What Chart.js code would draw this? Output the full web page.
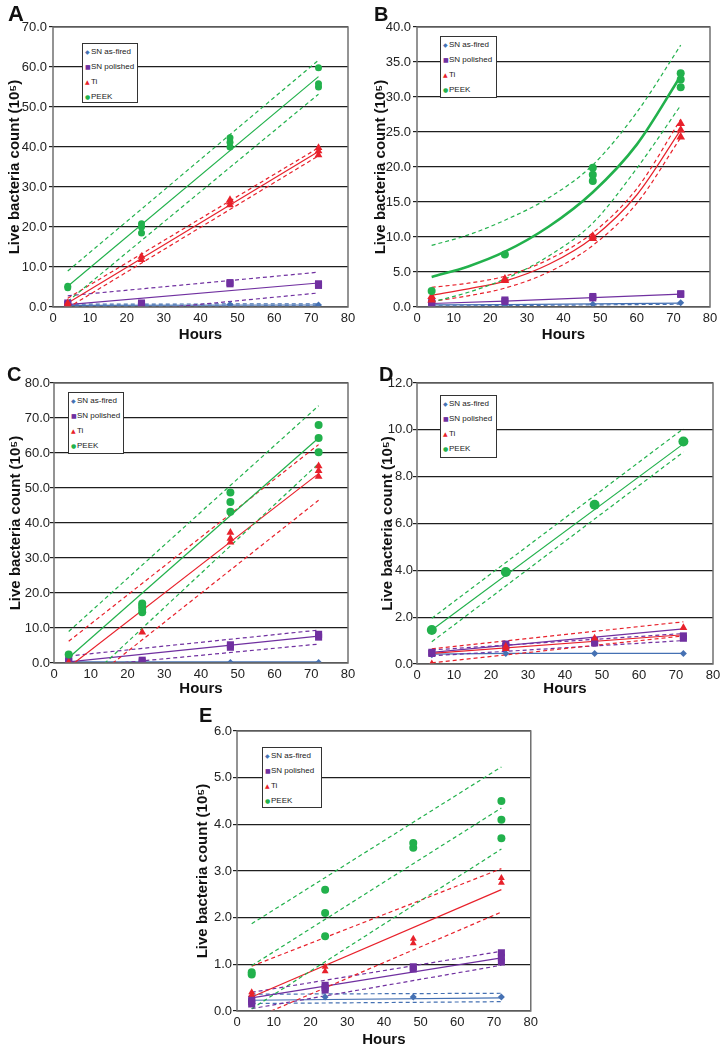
<!DOCTYPE html>
<html>
<head>
<meta charset="utf-8">
<script src="https://cdn.jsdelivr.net/npm/chart.js@4.4.0/dist/chart.umd.min.js"></script>
<style>
  body { margin: 0; background: #fff; width: 725px; height: 1051px; position: relative; overflow: hidden;
         font-family: Arial, "Liberation Sans", sans-serif; }
  canvas { position: absolute; }
  .letter { position: absolute; font-weight: bold; font-size: 20px; line-height: 20px; color: #111; }
  .legend { position: absolute; background: #fff; border: 1px solid #333; box-sizing: border-box;
            font-size: 8px; color: #222; }
  .legend div { height: 15px; line-height: 15px; white-space: nowrap; padding-left: 2px; }
  .legend span { display: inline-block; width: 6px; font-size: 6px; font-family: "DejaVu Sans", sans-serif; }
</style>
</head>
<body>
<canvas id="chartA" width="362" height="345" style="left:0;top:0"></canvas>
<canvas id="chartB" width="363" height="345" style="left:362px;top:0"></canvas>
<canvas id="chartC" width="362" height="360" style="left:0;top:345px"></canvas>
<canvas id="chartD" width="363" height="360" style="left:362px;top:345px"></canvas>
<canvas id="chartE" width="362" height="346" style="left:180px;top:705px"></canvas>

<div class="letter" style="left:8px;top:4px;font-size:22px">A</div>
<div class="letter" style="left:374px;top:4px">B</div>
<div class="letter" style="left:7px;top:364px">C</div>
<div class="letter" style="left:379px;top:364px">D</div>
<div class="letter" style="left:199px;top:705px">E</div>

<script>
// shared
const hours = [4, 24, 48, 72];
const fitHours = [4, 72];
const curveHours = [4, 14, 24, 36, 48, 60, 72];
const seriesNames = ['SN as-fired', 'SN polished', 'Ti', 'PEEK'];
const seriesColors = ['#4571b3', '#7030a0', '#e8212b', '#22b14c'];
const seriesShapes = ['rectRot', 'rect', 'triangle', 'circle'];
const legendGlyphs = ['\u25C6', '\u25A0', '\u25B2', '\u25CF'];
const yAxisTitle = 'Live bacteria count (10\u2075)';
const xAxisTitle = 'Hours';

// panel A (replicates per time point)
const firedA = [[0.3], [0.4], [0.6], [0.5]];
const polishedA = [[0.6, 1.0], [0.8, 1.0], [5.8, 6.1], [5.4, 5.8]];
const tiA = [[0.5, 1.0], [11.8, 12.6], [25.5, 26.2, 26.8], [38.0, 39.0, 39.8]];
const peekA = [[4.8, 5.2], [18.5, 20.0, 20.8], [40.0, 41.2, 42.3], [55.0, 55.8, 59.8]];
const firedFitA = [0.4, 0.5], firedHiA = [0.7, 0.8], firedLoA = [0.1, 0.3];
const polishedFitA = [0.6, 6.0], polishedHiA = [2.8, 8.7], polishedLoA = [-2.5, 3.5];
const tiFitA = [1.0, 38.9], tiHiA = [2.2, 39.8], tiLoA = [-0.2, 37.8];
const peekFitA = [5.2, 57.6], peekHiA = [9.0, 61.7], peekLoA = [1.4, 53.2];

// panel B
const firedB = [[0.1, 0.3], [0.3], [0.4], [0.6]];
const polishedB = [[0.5, 0.8], [0.8, 1.0], [1.3, 1.5], [1.8, 1.9]];
const tiB = [[1.0, 1.5], [3.8, 4.0], [9.8, 10.1], [24.3, 25.3, 26.2]];
const peekB = [[2.3], [7.5], [18.0, 18.9, 19.9], [31.4, 32.5, 33.4]];
const firedFitB = [0.3, 0.35, 0.45, 0.55], firedLoB = [0.15, 0.2, 0.3, 0.4];
const polishedFitB = [0.5, 0.85, 1.35, 1.85];
const tiFitB = [1.7, 2.6, 3.7, 6.1, 9.9, 16.0, 25.3];
const tiHiB = [2.8, 3.4, 4.4, 6.8, 10.6, 16.9, 26.8];
const tiLoB = [0.8, 1.6, 2.7, 5.0, 8.8, 14.8, 24.2];
const peekFitB = [4.3, 5.8, 7.9, 11.5, 16.4, 23.2, 33.0];
const peekHiB = [8.8, 10.3, 12.4, 15.6, 20.3, 27.8, 37.4];
const peekLoB = [0.7, 2.1, 4.0, 7.3, 12.0, 19.8, 28.8];

// panel C
const firedC = [[0.3], [0.3], [0.3], [0.3]];
const polishedC = [[0.5, 1.0], [0.3, 0.8], [4.5, 5.2], [7.4, 8.2]];
const tiC = [[0.2], [8.8], [34.5, 35.6, 37.3], [53.3, 54.9, 56.3]];
const peekC = [[2.4], [14.5, 15.5, 16.3, 17.0], [43.2, 46.0, 48.7], [60.2, 64.3, 68.0]];
const firedFitC = [0.3, 0.3];
const polishedFitC = [0.3, 7.7], polishedHiC = [2.0, 9.4], polishedLoC = [-1.4, 5.4];
const tiFitC = [-1.2, 54.1], tiHiC = [6.2, 62.4], tiLoC = [-10.0, 46.5];
const peekFitC = [1.5, 64.3], peekHiC = [9.0, 73.5], peekLoC = [-9.7, 57.0];

// panel D
const firedD = [[0.4], [0.45], [0.45], [0.45]];
const polishedD = [[0.45, 0.5], [0.75, 0.85], [0.9, 1.0], [1.1, 1.2]];
const tiD = [[0.0], [0.65, 0.75], [1.1], [1.55]];
const peekD = [[1.45], [3.93], [6.8], [9.5]];
const firedFitD = [0.42, 0.45, 0.45, 0.45];
const polishedFitD = [0.5, 1.5], polishedHiD = [0.6, 1.3], polishedLoD = [0.35, 1.0];
const tiFitD = [0.45, 1.25], tiHiD = [0.65, 1.8], tiLoD = [0.05, 1.2];
const peekFitD = [1.45, 9.4], peekHiD = [1.95, 10.05], peekLoD = [0.95, 9.05];

// panel E
const firedE = [[0.2], [0.3], [0.3], [0.3]];
const polishedE = [[0.15, 0.2, 0.25], [0.45, 0.5, 0.55], [0.9, 0.95], [1.05, 1.15, 1.25]];
const tiE = [[0.35, 0.4], [0.85, 0.95], [1.45, 1.55], [2.75, 2.85]];
const peekE = [[0.78, 0.83], [1.6, 2.1, 2.6], [3.5, 3.6], [3.7, 4.1, 4.5]];
const firedFitE = [0.23, 0.28], firedHiE = [0.36, 0.38], firedLoE = [0.16, 0.2];
const polishedFitE = [0.28, 1.14], polishedHiE = [0.4, 1.28], polishedLoE = [0.05, 0.98];
const tiFitE = [0.3, 2.6], tiHiE = [0.96, 3.05], tiLoE = [-0.18, 2.12];
const peekFitE = [0.97, 4.35], peekHiE = [1.87, 5.23], peekLoE = [0.05, 3.47];

function scatterPts(reps) {
  const out = [];
  reps.forEach((vals, i) => vals.forEach(v => out.push({ x: hours[i], y: v })));
  return out;
}
function linePts(xs, ys) {
  return ys.map((y, i) => ({ x: xs[i], y: y }));
}
function points(k, reps, r) {
  const c = seriesColors[k];
  return { label: seriesNames[k], data: scatterPts(reps), showLine: false,
           pointStyle: seriesShapes[k], pointRadius: r, pointBorderWidth: 0,
           backgroundColor: c, borderColor: c };
}
function fit(k, xs, ys, dashed, width, curve) {
  const c = seriesColors[k];
  return { data: linePts(xs, ys), showLine: true, pointRadius: 0,
           borderColor: c, backgroundColor: c, borderWidth: width || 1.2,
           borderDash: dashed ? [4, 3] : [],
           tension: curve ? 0.4 : 0, cubicInterpolationMode: curve ? 'monotone' : 'default' };
}

const framePlugin = {
  id: 'frame',
  afterDatasetsDraw(chart) {
    const { ctx, chartArea: a } = chart;
    ctx.save();
    ctx.strokeStyle = '#707070';
    ctx.lineWidth = 1.5;
    ctx.strokeRect(a.left, a.top, a.right - a.left, a.bottom - a.top);
    ctx.restore();
  }
};

function makePanel(id, g, datasets) {
  const canvas = document.getElementById(id);
  new Chart(canvas, {
    type: 'scatter',
    data: { datasets: datasets },
    options: {
      responsive: false,
      animation: false,
      events: [],
      layout: { padding: { left: 0, top: g.top, right: canvas.width - g.right, bottom: 0 } },
      plugins: { legend: { display: false }, tooltip: { enabled: false } },
      scales: {
        x: {
          type: 'linear', min: 0, max: 80,
          ticks: { stepSize: 10, padding: g.xPad, color: '#222', font: { size: 13, family: 'Arial' } },
          grid: { display: false, drawTicks: false },
          border: { display: false },
          title: { display: true, text: xAxisTitle, color: '#111',
                   font: { size: 15, weight: 'bold', family: 'Arial' }, padding: { top: 0, bottom: g.hPad } },
          afterFit: s => { s.height = canvas.height - g.bottom; }
        },
        y: {
          min: 0, max: g.ymax,
          ticks: { stepSize: g.step, padding: g.yPad, color: '#222', font: { size: 13, family: 'Arial' },
                   callback: v => v.toFixed(1) },
          grid: { color: '#1e1e1e', lineWidth: 1.2, tickLength: 4 },
          border: { display: false },
          title: { display: true, text: yAxisTitle, color: '#111',
                   font: { size: 15, weight: 'bold', family: 'Arial' }, padding: { top: g.tPad, bottom: 0 } },
          afterFit: s => { s.width = g.left; }
        }
      }
    },
    plugins: [framePlugin]
  });
}

function addLegend(left, top, w, h) {
  const box = document.createElement('div');
  box.className = 'legend';
  box.style.left = left + 'px';
  box.style.top = top + 'px';
  box.style.width = w + 'px';
  box.style.height = h + 'px';
  seriesNames.forEach((name, k) => {
    const row = document.createElement('div');
    const mark = document.createElement('span');
    mark.textContent = legendGlyphs[k];
    mark.style.color = seriesColors[k];
    row.appendChild(mark);
    row.appendChild(document.createTextNode(name));
    box.appendChild(row);
  });
  document.body.appendChild(box);
}

makePanel('chartA', { left: 53, right: 348, top: 27, bottom: 307, ymax: 70, step: 10, yPad: 2, tPad: 6, xPad: 4, hPad: 1 }, [
  points(3, peekA, 3.5), points(2, tiA, 4.5), points(1, polishedA, 5), points(0, firedA, 3.5),
  fit(3, fitHours, peekFitA), fit(3, fitHours, peekHiA, true), fit(3, fitHours, peekLoA, true),
  fit(2, fitHours, tiFitA), fit(2, fitHours, tiHiA, true), fit(2, fitHours, tiLoA, true),
  fit(1, fitHours, polishedFitA), fit(1, fitHours, polishedHiA, true), fit(1, fitHours, polishedLoA, true),
  fit(0, fitHours, firedFitA), fit(0, fitHours, firedHiA, true), fit(0, fitHours, firedLoA, true)
]);

makePanel('chartB', { left: 55, right: 348, top: 27, bottom: 307, ymax: 40, step: 5, yPad: 2, tPad: 10, xPad: 4, hPad: 1 }, [
  points(3, peekB, 4), points(2, tiB, 5), points(1, polishedB, 5), points(0, firedB, 3.5),
  fit(3, curveHours, peekFitB, false, 2.6, true), fit(3, curveHours, peekHiB, true, 1.2, true),
  fit(3, curveHours, peekLoB, true, 1.2, true),
  fit(2, curveHours, tiFitB, false, 1.2, true), fit(2, curveHours, tiHiB, true, 1.2, true),
  fit(2, curveHours, tiLoB, true, 1.2, true),
  fit(1, hours, polishedFitB),
  fit(0, hours, firedFitB), fit(0, hours, firedLoB, true)
]);

makePanel('chartC', { left: 54, right: 348, top: 38, bottom: 318, ymax: 80, step: 10, yPad: 0, tPad: 7, xPad: 4, hPad: 7 }, [
  points(3, peekC, 4), points(2, tiC, 4.5), points(1, polishedC, 5), points(0, firedC, 3),
  fit(3, fitHours, peekFitC), fit(3, fitHours, peekHiC, true), fit(3, fitHours, peekLoC, true),
  fit(2, fitHours, tiFitC), fit(2, fitHours, tiHiC, true), fit(2, fitHours, tiLoC, true),
  fit(1, fitHours, polishedFitC), fit(1, fitHours, polishedHiC, true), fit(1, fitHours, polishedLoC, true),
  fit(0, fitHours, firedFitC)
]);

makePanel('chartD', { left: 55, right: 351, top: 38, bottom: 319, ymax: 12, step: 2, yPad: 0, tPad: 17, xPad: 4, hPad: 7 }, [
  points(3, peekD, 5), points(2, tiD, 4.5), points(1, polishedD, 5), points(0, firedD, 3.5),
  fit(3, fitHours, peekFitD), fit(3, fitHours, peekHiD, true), fit(3, fitHours, peekLoD, true),
  fit(2, fitHours, tiFitD), fit(2, fitHours, tiHiD, true), fit(2, fitHours, tiLoD, true),
  fit(1, fitHours, polishedFitD), fit(1, fitHours, polishedHiD, true), fit(1, fitHours, polishedLoD, true),
  fit(0, hours, firedFitD)
]);

makePanel('chartE', { left: 57, right: 352, top: 26, bottom: 306, ymax: 6, step: 1, yPad: 1, tPad: 14, xPad: 4, hPad: 2 }, [
  points(3, peekE, 4), points(2, tiE, 4), points(1, polishedE, 5), points(0, firedE, 3.5),
  fit(3, fitHours, peekFitE, true), fit(3, fitHours, peekHiE, true), fit(3, fitHours, peekLoE, true),
  fit(2, fitHours, tiFitE), fit(2, fitHours, tiHiE, true), fit(2, fitHours, tiLoE, true),
  fit(1, fitHours, polishedFitE), fit(1, fitHours, polishedHiE, true), fit(1, fitHours, polishedLoE, true),
  fit(0, fitHours, firedFitE), fit(0, fitHours, firedHiE, true), fit(0, fitHours, firedLoE, true)
]);

addLegend(82, 43, 56, 60);
addLegend(440, 36, 57, 62);
addLegend(68, 392, 56, 62);
addLegend(440, 395, 57, 63);
addLegend(262, 747, 60, 61);
</script>
</body>
</html>
